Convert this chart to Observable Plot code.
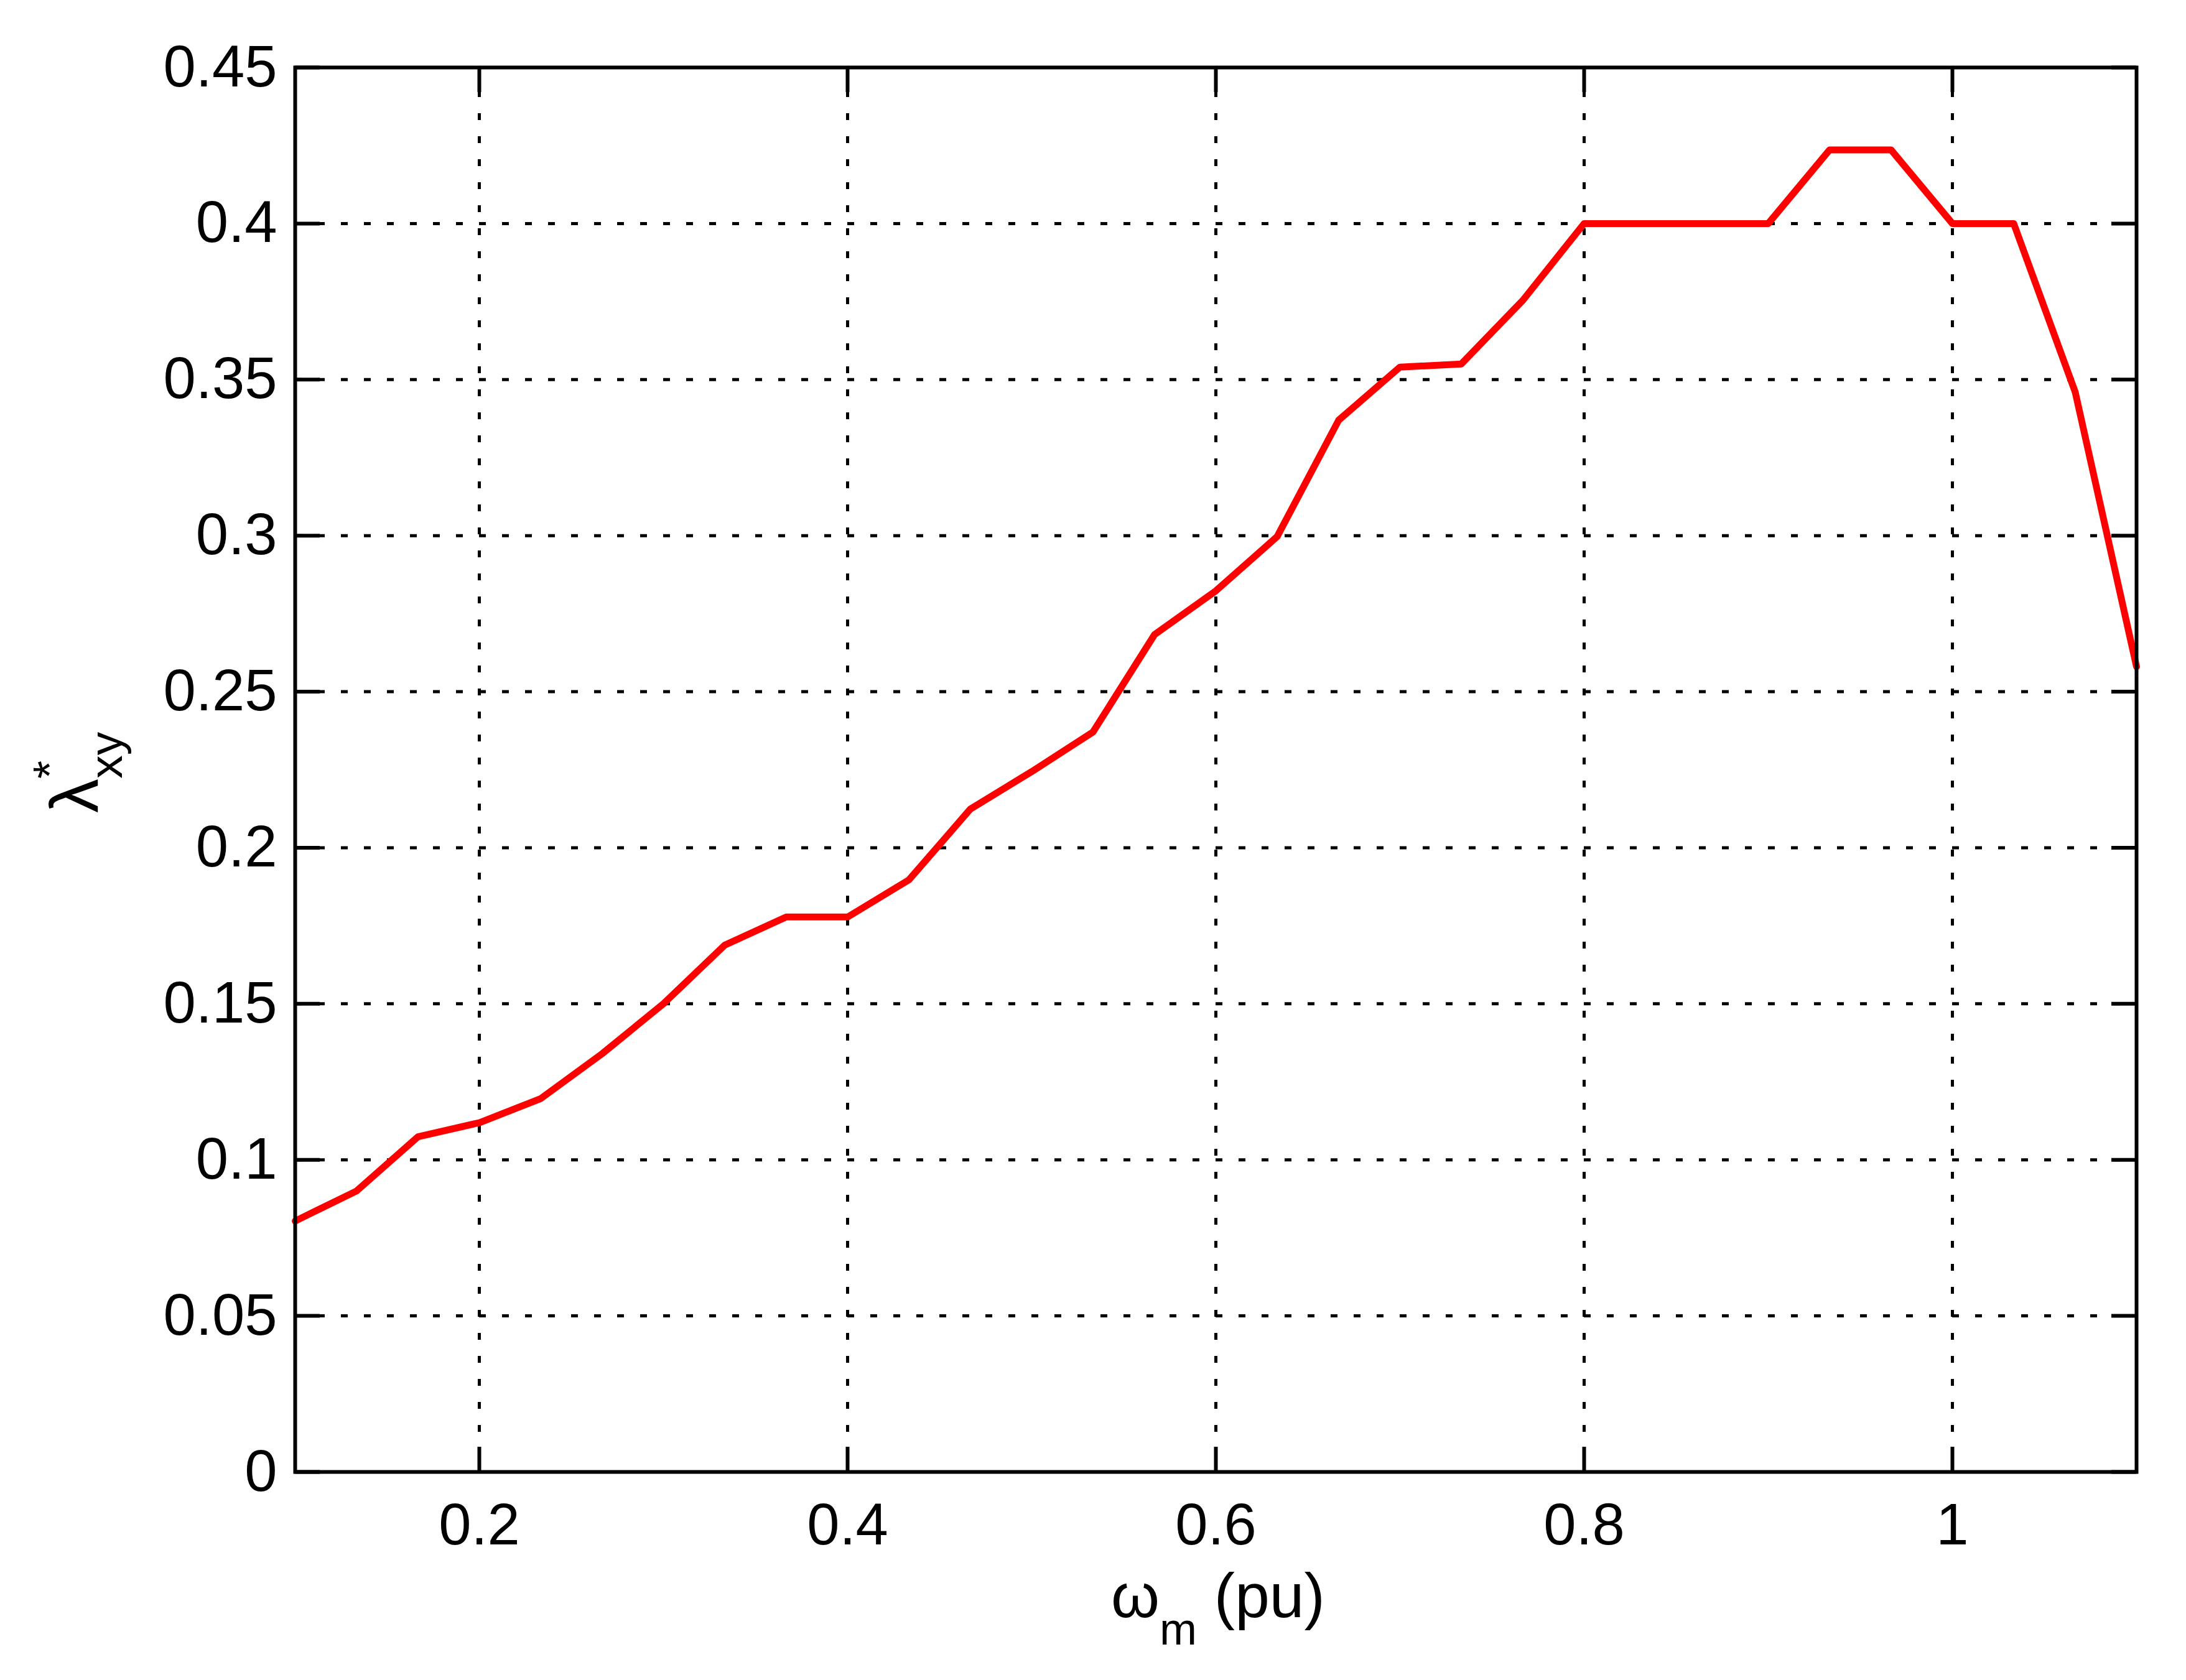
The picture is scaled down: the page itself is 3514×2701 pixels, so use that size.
<!DOCTYPE html>
<html>
<head>
<meta charset="utf-8">
<script src="https://cdn.jsdelivr.net/npm/d3@7"></script>
<script src="https://cdn.jsdelivr.net/npm/@observablehq/plot@0.6"></script>
<style>
  html, body { margin: 0; padding: 0; background: #ffffff; }
  #chart svg { display: block; }
</style>
</head>
<body>
<div id="chart"></div>
<script>
// rotor speed (pu)
const omegaM = [0.1, 0.1333, 0.1667, 0.2, 0.2333, 0.2667, 0.3, 0.3333, 0.3667, 0.4,
                0.4333, 0.4667, 0.5, 0.5333, 0.5667, 0.6, 0.6333, 0.6667, 0.7, 0.7333,
                0.7667, 0.8, 0.8333, 0.8667, 0.9, 0.9333, 0.9667, 1.0, 1.0333, 1.0667, 1.1];
// optimal lambda_xy
const lambdaXY = [0.0804, 0.090, 0.1074, 0.1119, 0.1196, 0.134, 0.150, 0.1688, 0.1778, 0.1778,
                  0.1897, 0.2124, 0.2244, 0.2371, 0.2683, 0.2823, 0.2997, 0.337, 0.354, 0.355,
                  0.3754, 0.4, 0.4, 0.4, 0.4, 0.4236, 0.4236, 0.4, 0.4, 0.346, 0.258];

const xTicks = [0.2, 0.4, 0.6, 0.8, 1.0];
const xTickLabels = ["0.2", "0.4", "0.6", "0.8", "1"];
const yTicks = [0, 0.05, 0.1, 0.15, 0.2, 0.25, 0.3, 0.35, 0.4, 0.45];
const yTickLabels = ["0", "0.05", "0.1", "0.15", "0.2", "0.25", "0.3", "0.35", "0.4", "0.45"];

const data = omegaM.map((x, i) => ({x, y: lambdaXY[i]}));

const W = 3514, H = 2701;
const mL = 474, mR = 80, mT = 108, mB = 335;
const innerW = W - mL - mR, innerH = H - mT - mB;
const tickLen = 40;
const font = "'Liberation Sans', Arial, Helvetica, sans-serif";

const xLab = new Map(xTicks.map((t, i) => [t, xTickLabels[i]]));
const yLab = new Map(yTicks.map((t, i) => [t, yTickLabels[i]]));

const chart = Plot.plot({
  width: W,
  height: H,
  marginLeft: mL,
  marginRight: mR,
  marginTop: mT,
  marginBottom: mB,
  style: {background: "#ffffff", fontFamily: font, color: "#000000"},
  x: {domain: [0.1, 1.1], axis: null},
  y: {domain: [0, 0.45], axis: null},
  marks: [
    Plot.ruleX(xTicks, {x: d => d, stroke: "#000000", strokeWidth: 5, strokeDasharray: "11,26"}),
    Plot.ruleY(yTicks, {y: d => d, stroke: "#000000", strokeWidth: 5, strokeDasharray: "11,26"}),
    Plot.line(data, {x: "x", y: "y", stroke: "#ff0000", strokeWidth: 11, strokeLinejoin: "round"}),
    Plot.frame({stroke: "#000000", strokeWidth: 6}),
    // inner ticks on all four sides
    Plot.tickX(xTicks, {x: d => d, stroke: "#000000", strokeWidth: 6, insetTop: innerH - tickLen}),
    Plot.tickX(xTicks, {x: d => d, stroke: "#000000", strokeWidth: 6, insetBottom: innerH - tickLen}),
    Plot.tickY(yTicks, {y: d => d, stroke: "#000000", strokeWidth: 6, insetRight: innerW - tickLen}),
    Plot.tickY(yTicks, {y: d => d, stroke: "#000000", strokeWidth: 6, insetLeft: innerW - tickLen}),
    Plot.axisX(xTicks, {tickSize: 0, tickPadding: 50, tickFormat: d => xLab.get(d), fontSize: 94, label: null, fill: "#000000"}),
    Plot.axisY(yTicks, {tickSize: 0, tickPadding: 29, tickFormat: d => yLab.get(d), fontSize: 94, label: null, fill: "#000000"})
  ]
});

const svg = d3.select(chart);

// x-axis title: ω_m (pu)
const xt = svg.append("text")
  .attr("x", 1786).attr("y", 2600)
  .attr("text-anchor", "start")
  .attr("font-family", font).attr("font-size", 100).attr("fill", "#000000");
xt.append("tspan").text("ω");
xt.append("tspan").attr("font-size", 72).attr("dy", 44).text("m");
xt.append("tspan").attr("dy", -44).text(" (pu)");

// y-axis title: λ*_xy (rotated)
const yt = svg.append("text")
  .attr("transform", "translate(157,1307) rotate(-90)")
  .attr("text-anchor", "start")
  .attr("font-family", font).attr("font-size", 110).attr("fill", "#000000");
yt.append("tspan").text("λ");
yt.append("tspan").attr("font-size", 75).attr("dy", -52).text("*");
yt.append("tspan").attr("font-size", 75).attr("dx", -29).attr("dy", 91).text("xy");

document.getElementById("chart").appendChild(chart);
</script>
</body>
</html>
